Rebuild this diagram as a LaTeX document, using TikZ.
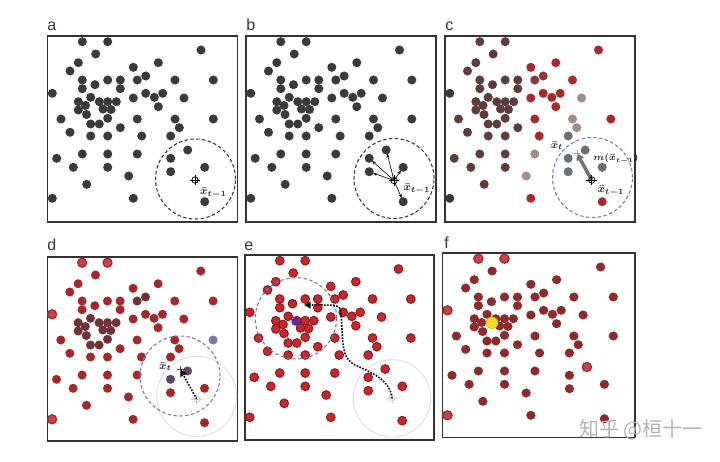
\documentclass[tikz,border=0pt]{standalone}
\usepackage{fontspec}
\setmainfont{Liberation Sans}
\newfontfamily\cjk{Noto Sans CJK SC}
\usetikzlibrary{arrows.meta}

\definecolor{ptgray}{HTML}{3A3A3A}
\definecolor{cbrown}{HTML}{5E3B3E}
\definecolor{cred}{HTML}{A8282C}
\definecolor{cmid}{HTML}{86393C}
\definecolor{cgray}{HTML}{6C6E76}
\definecolor{clight}{HTML}{A08C8C}
\definecolor{dred}{HTML}{A3272B}
\definecolor{dmaroon}{HTML}{73303A}
\definecolor{dblue}{HTML}{7A7AB2}
\definecolor{dpurple}{HTML}{5C4670}
\definecolor{ered}{HTML}{C8262A}
\definecolor{eline}{HTML}{7E1416}
\definecolor{fmaroon}{HTML}{8C2B2E}
\definecolor{halored}{HTML}{CC4048}
\definecolor{winblue}{HTML}{7478B4}
\definecolor{modeyellow}{HTML}{F2E01A}
\definecolor{meanpurple}{HTML}{5B2D96}

% sample points: x/y inside a panel, class in c, class in d, class in f
\newcommand{\samples}{%
  34.8/5.7/B/H/h, 60.2/5.7/B/H/h, 153.5/14/R/R/n, 48.2/18/B/R/n,
  30.8/26.7/B/R/n, 22.5/35/B/R/n, 110.8/26.7/R/R/n, 85.8/31.3/R/R/n,
  34.8/44/B/R/n, 47.5/48.7/B/R/n, 60.2/44/B/R/n, 72.8/44/B/R/n,
  72.8/52.7/B/R/n, 34.8/52.7/B/R/n, 89.8/44/M/M/n, 98.2/40/M/M/n,
  127.5/44/R/R/n, 165.8/44/N/R/n, 4.8/57.3/K/H/h, 98.2/57.3/R/R/n,
  106.8/61.3/R/R/n, 115.2/57.3/R/R/n, 110.8/70.7/R/R/n, 85.8/62/R/R/n,
  136.5/62/L/R/n, 13.5/83/B/R/n, 89.8/83/R/R/n, 127.5/83/L/R/n,
  131.8/91.7/L/R/n, 165.8/83/R/U/n, 22.5/96.3/B/R/n, 72.8/91.7/B/R/n,
  43.2/100/B/R/n, 60.2/100/B/R/n, 94.2/100/R/R/n, 123.2/100/G/R/n,
  140.2/114/G/P/h, 34.8/118/B/R/n, 60.2/118/B/R/n, 89.8/118/L/R/n,
  9.2/122.3/B/R/n, 123.2/122.3/G/P/n, 25.8/131.3/B/R/n, 60.2/131.3/B/R/n,
  157.2/131.3/G/R/n, 123.2/135.7/G/R/n, 81.2/140/L/R/n, 39.2/148.3/B/R/n,
  4.8/162.3/K/H/h, 85.8/162.3/R/R/n, 157.2/165.7/R/R/n,
  43.2/61.3/B/M/n, 30.8/65.7/B/M/n, 51.8/65.7/B/M/n, 60.2/65.7/B/M/n,
  68.8/65.7/B/M/n, 38/69.5/B/M/n, 30.8/74/B/M/n, 55.5/73/B/M/n,
  63.5/73.5/B/M/n, 39/78.5/B/M/n, 60.2/82.3/B/M/n, 43.2/88/B/M/n,
  51.8/88/B/M/n}

\tikzset{
  xhair/.pic={
    \draw[line width=0.55pt] (0,0) circle (2.4pt);
    \draw[line width=0.55pt] (-4pt,0) -- (4pt,0) (0,-4pt) -- (0,4pt);
  },
  plus/.pic={
    \draw[line width=0.6pt] (-2.4pt,0) -- (2.4pt,0) (0,-2.4pt) -- (0,2.4pt);
  }
}

\begin{document}
\begin{tikzpicture}[
  x=0.75pt, y=-0.75pt,
  frame/.style={draw=black!80, line width=1.1pt},
  plabel/.style={anchor=base west, inner sep=0pt, text=black!80,
                 font=\fontsize{12}{12}\selectfont},
  mlabel/.style={inner sep=0pt, font=\footnotesize\boldmath, text=black!85},
  window/.style={dash pattern=on 2.6pt off 1.8pt, line width=0.8pt},
  oldwin/.style={draw=black!15, line width=0.6pt},
  spoke/.style={-{Stealth[length=3pt,width=2.4pt]}, line width=0.45pt, shorten >=3pt},
  trail/.style={-{Triangle[length=5pt,width=5pt]}, line width=1.2pt,
                dash pattern=on 1.2pt off 1.1pt},
  shiftvec/.style={-{Triangle[length=5pt,width=6pt]}, line width=2.6pt, draw=black!55},
  cB/.style={fill=cbrown}, cR/.style={fill=cred}, cM/.style={fill=cmid},
  cG/.style={fill=cgray}, cL/.style={fill=clight}, cK/.style={fill=ptgray}, cN/.style={},
  dR/.style={fill=dred}, dM/.style={fill=dmaroon}, dU/.style={fill=dblue},
  dP/.style={fill=dpurple}, dH/.style={fill=halored, draw=dred, line width=0.9pt},
  fn/.style={fill=fmaroon}, fh/.style={fill=halored, draw=fmaroon, line width=0.9pt}
]
\useasboundingbox (0,0) rectangle (720,461);

% a
\node[plabel] (la) at (47,30) {a};
\begin{scope}[shift={(47.5,36)}]
  \draw[frame] (0,0) rectangle (190,186);
  \foreach \px/\py/\cc/\cd/\cf in \samples
    \fill[ptgray] (\px,\py) circle (3.4pt);
  \coordinate (amean) at (147.5,144);
  \draw[window, black!80] (148,143) circle (30pt);
  \pic at (amean) {xhair};
  \node[mlabel] (axbar) at (166,157) {$\bar{x}_{t-1}$};
\end{scope}

% b
\node[plabel] (lb) at (246,30) {b};
\begin{scope}[shift={(246,36)}]
  \draw[frame] (0,0) rectangle (190,186);
  \foreach \px/\py/\cc/\cd/\cf [count=\i] in \samples {
    \fill[ptgray] (\px,\py) circle (3.4pt);
    \coordinate (b\i) at (\px,\py);
  }
  \coordinate (bmean) at (148,144.5);
  \draw[window, black!80] (148,142.5) circle (30pt);
  \foreach \k in {37,42,45,46,51}
    \draw[spoke] (bmean) -- (b\k);
  \pic at (bmean) {xhair};
  \node[mlabel] (bxbar) at (171,153) {$\bar{x}_{t-1}$};
\end{scope}

% c
\node[plabel] (lc) at (445,30) {c};
\begin{scope}[shift={(445,36)}]
  \draw[frame] (0,0) rectangle (190,186);
  \foreach \px/\py/\cc/\cd/\cf in \samples
    \path[c\cc] (\px,\py) circle (3.4pt);
  \coordinate (cmean) at (146.7,144);
  \coordinate (cnew) at (132,117.5);
  \draw[window, winblue] (147.5,141.5) circle (30pt);
  \draw[shiftvec] (cmean) -- (cnew);
  \pic at (cmean) {xhair};
  \pic[black!35] at (cnew) {plus};
  \node[mlabel] (cxbar) at (166,155) {$\bar{x}_{t-1}$};
  \node[mlabel] (cxnew) at (112,110) {$\bar{x}_{t}$};
  \node[mlabel, font=\scriptsize\boldmath] (cshift) at (171,123) {$m(\bar{x}_{t-1})$};
\end{scope}

% d
\node[plabel] (ld) at (47,250) {d};
\begin{scope}[shift={(47.3,257)}]
  \draw[frame] (0,0) rectangle (190,184);
  \foreach \px/\py/\cc/\cd/\cf in \samples
    \path[d\cd] (\px,\py) circle (3.4pt);
  \coordinate (dold) at (149.4,142);
  \coordinate (dnew) at (133,112.5);
  \draw[oldwin] (149.4,139.4) circle (30pt);
  \draw[window, winblue] (132.7,119) circle (30pt);
  \pic[black!20] at (dold) {xhair};
  \draw[trail] (dold) -- (dnew);
  \pic[black!70] at (dnew) {plus};
  \node[mlabel] (dxnew) at (118,110) {$\bar{x}_{t}$};
\end{scope}

% e
\node[plabel] (le) at (244,250) {e};
\begin{scope}[shift={(245,255)}]
  \draw[frame] (0,0) rectangle (189,185);
  \foreach \px/\py/\cc/\cd/\cf in \samples
    \filldraw[fill=ered, draw=eline, line width=0.6pt] (\px,\py) circle (3.3pt);
  \coordinate (eold) at (147,143.3);
  \coordinate (enew) at (59,50);
  \draw[oldwin] (eold) circle (29pt);
  \pic[winblue!35] at (eold) {xhair};
  \draw[window, winblue] (51,63.3) circle (30.5pt);
  \fill[meanpurple] (50.3,66.7) circle (3pt);
  \draw[trail] (eold) .. controls (145,124) and (125,117) .. (110,110)
    .. controls (99,104) and (98,95) .. (97,75) -- (96,58)
    .. controls (95,50) .. (enew);
\end{scope}

% f
\node[plabel] (lf) at (444,248.5) {f};
\begin{scope}[shift={(442.5,253)}]
  \draw[frame] (0,0) rectangle (192.5,184.5);
  \begin{scope}[xscale=1.03]
    \foreach \px/\py/\cc/\cd/\cf in \samples
      \path[f\cf] (\px,\py) circle (3.4pt);
    \filldraw[fill=modeyellow, draw=modeyellow!80!black, line width=0.4pt] (48,69.7) circle (4.4pt);
  \end{scope}
\end{scope}

\node[font=\cjk\fontsize{15}{15}\selectfont, text=black!30] (mark) at (641,430) {知乎 @桓十一};
\end{tikzpicture}
\end{document}
